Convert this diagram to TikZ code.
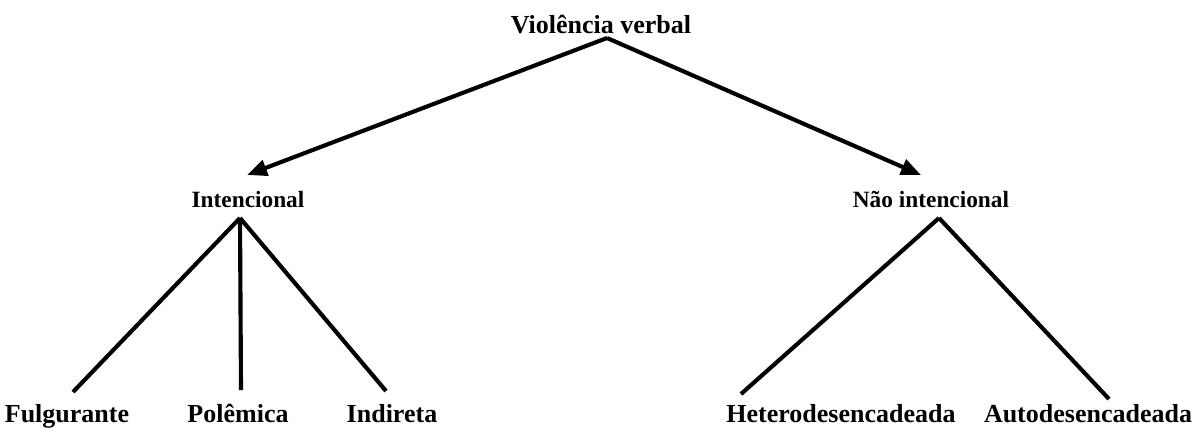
\documentclass[tikz,border=0pt]{standalone}
\usepackage{fontspec}
\setmainfont{Liberation Serif}
\usetikzlibrary{arrows.meta}
\begin{document}
\begin{tikzpicture}[x=0.75pt,y=-0.75pt,
  big/.style={font=\fontsize{19.5}{22}\selectfont\bfseries, inner sep=0pt, anchor=base},
  mid/.style={font=\fontsize{17.5}{20}\selectfont\bfseries, inner sep=0pt, anchor=base},
  branch/.style={line width=3.1pt},
  arr/.style={line width=3.1pt, -{Triangle[length=15pt,width=12pt]}}]
\useasboundingbox (0,0) rectangle (1193,430);
% labels
\node[big] (vv) at (601,33) {Violência verbal};
\node[mid] (int) at (248,207) {Intencional};
\node[mid] (nint) at (931,207) {Não intencional};
\node[big] (ful) at (67,422) {Fulgurante};
\node[big] (pol) at (238,422) {Polêmica};
\node[big] (ind) at (392,422) {Indireta};
\node[big] (het) at (841,422) {Heterodesencadeada};
\node[big] (aut) at (1088,422) {Autodesencadeada};
% junction points of the connectors
\coordinate (top) at (607,38);
\coordinate (intTip) at (247,175);
\coordinate (nintTip) at (921,175);
\coordinate (intApex) at (240,218);
\coordinate (nintApex) at (939,218);
\coordinate (fulEnd) at (73,392);
\coordinate (polEnd) at (241,390);
\coordinate (indEnd) at (386,391);
\coordinate (hetEnd) at (741,394);
\coordinate (autEnd) at (1109,399);
% arrows to the two kinds
\draw[arr] (top) -- (intTip);
\draw[arr] (top) -- (nintTip);
% sub-branches
\draw[branch] (intApex) -- (fulEnd);
\draw[branch] (intApex) -- (polEnd);
\draw[branch] (intApex) -- (indEnd);
\draw[branch] (nintApex) -- (hetEnd);
\draw[branch] (nintApex) -- (autEnd);
\end{tikzpicture}
\end{document}
